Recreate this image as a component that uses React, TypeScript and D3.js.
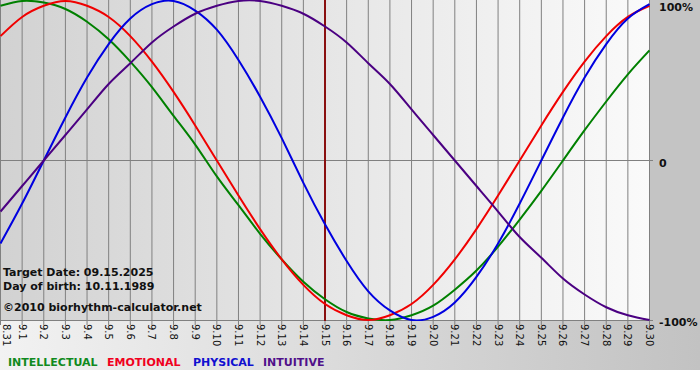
import React from "react";
import * as d3 from "d3";

const days = ["8.31","9.1","9.2","9.3","9.4","9.5","9.6","9.7","9.8","9.9","9.10","9.11","9.12","9.13","9.14","9.15","9.16","9.17","9.18","9.19","9.20","9.21","9.22","9.23","9.24","9.25","9.26","9.27","9.28","9.29","9.30"];
const intellectual = [0.97,1.00,0.99,0.95,0.87,0.76,0.62,0.46,0.28,0.10,-0.10,-0.28,-0.46,-0.62,-0.76,-0.87,-0.95,-0.99,-1.00,-0.97,-0.91,-0.81,-0.69,-0.54,-0.37,-0.19,0,0.19,0.37,0.54,0.69];
const emotional = [0.78,0.90,0.97,1.00,0.97,0.90,0.78,0.62,0.43,0.22,0,-0.22,-0.43,-0.62,-0.78,-0.90,-0.97,-1.00,-0.97,-0.90,-0.78,-0.62,-0.43,-0.22,0,0.22,0.43,0.62,0.78,0.90,0.97];
const physical = [-0.52,-0.27,0,0.27,0.52,0.73,0.89,0.98,1.00,0.94,0.82,0.63,0.40,0.14,-0.14,-0.40,-0.63,-0.82,-0.94,-1.00,-0.98,-0.89,-0.73,-0.52,-0.27,0,0.27,0.52,0.73,0.89,0.98];
const intuitive = [-0.32,-0.16,0,0.16,0.32,0.48,0.61,0.74,0.84,0.92,0.97,1.00,1.00,0.97,0.92,0.84,0.74,0.61,0.48,0.32,0.16,0,-0.16,-0.32,-0.48,-0.61,-0.74,-0.84,-0.92,-0.97,-1.00];
const targetDay = "9.15";
const yTicks = [1, 0, -1];
const yTickLabels = ["100%", "0", "-100%"];
const legend = ["INTELLECTUAL", "EMOTIONAL", "PHYSICAL", "INTUITIVE"];
const infoLines = ["Target Date: 09.15.2025", "Day of birth: 10.11.1989", "©2010 biorhythm-calculator.net"];

const W = 700, H = 380;
const plotL = 0.5, plotR = 650, plotT = 1, plotB = 320;

export default function App() {
  const x = d3.scalePoint<string>().domain(days).range([plotL, plotR - 0.5]);
  const y = d3.scaleLinear().domain([-1, 1]).range([plotB, plotT]);
  const line = d3.line<number>().x((_, i) => x(days[i]) as number).y(d => y(d)).curve(d3.curveNatural);
  const series = [
    { data: intellectual, color: "#008000" },
    { data: emotional, color: "#f00000" },
    { data: physical, color: "#0000e0" },
    { data: intuitive, color: "#4b0082" },
  ];
  const legendColors = ["#108a20", "#f00020", "#1010d0", "#50108a"];
  const legendX = [8, 107, 193, 263];
  const font = "'DejaVu Sans', Verdana, sans-serif";
  return (
    <svg width={W} height={H} style={{ position: "absolute", left: 0, top: 0, background: "#fff" }} fontFamily={font}>
      <defs>
        <linearGradient id="plotBg" x1="0" x2="1" y1="0" y2="0">
          <stop offset="0" stopColor="#d2d2d2" />
          <stop offset="1" stopColor="#fafafa" />
        </linearGradient>
        <linearGradient id="bottomBg" x1="0" x2="1" y1="0" y2="0">
          <stop offset="0" stopColor="#f2f2f2" />
          <stop offset="1" stopColor="#c2c2c2" />
        </linearGradient>
        <clipPath id="clipPlot">
          <rect x={0} y={0} width={plotR} height={plotB + 1} />
        </clipPath>
      </defs>
      <rect x={0} y={0} width={W} height={370} fill="url(#bottomBg)" />
      <rect x={plotR} y={0} width={W - plotR} height={plotB} fill="#c4c4c4" />
      <rect x={0} y={0} width={plotR} height={plotB} fill="url(#plotBg)" />
      {days.map(d => (
        <line key={"g" + d} x1={x(d)} x2={x(d)} y1={0} y2={plotB + 5} stroke="#808080" strokeWidth={1} />
      ))}
      <line x1={0} x2={plotR + 3} y1={y(0)} y2={y(0)} stroke="#808080" strokeWidth={1} />
      <line x1={0} x2={plotR + 3} y1={plotB + 0.5} y2={plotB + 0.5} stroke="#808080" strokeWidth={1} />
      <line x1={x(targetDay)} x2={x(targetDay)} y1={0} y2={plotB + 1} stroke="#8a1010" strokeWidth={2} />
      <g clipPath="url(#clipPlot)">
        {series.map((s, i) => (
          <path key={i} d={line(s.data) || ""} fill="none" stroke={s.color} strokeWidth={2} />
        ))}
      </g>
      {days.map(d => (
        <text key={"t" + d} transform={`translate(${Math.max(2.5, (x(d) as number) - 3.5)},324) rotate(90)`} fontSize={10} fill="#111">{d}</text>
      ))}
      {yTicks.map((t, i) => (
        <text key={"y" + i} x={659} y={Math.max(11, y(t) + 6)} fontSize={11} fontWeight="bold" fill="#111">{yTickLabels[i]}</text>
      ))}
      {infoLines.map((t, i) => (
        <text key={"info" + i} x={3} y={[276, 290, 311][i]} fontSize={11} fontWeight="bold" fill="#111">{t}</text>
      ))}
      {legend.map((t, i) => (
        <text key={"l" + i} x={legendX[i]} y={366} fontSize={11} fontWeight="bold" fill={legendColors[i]}>{t}</text>
      ))}
    </svg>
  );
}
